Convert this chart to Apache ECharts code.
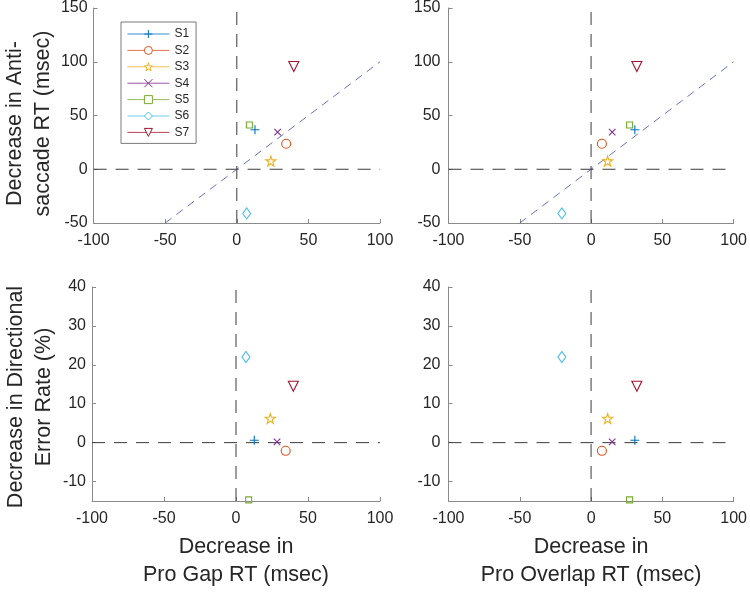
<!DOCTYPE html>
<html>
<head>
<meta charset="utf-8">
<script src="https://cdn.jsdelivr.net/npm/echarts@6/dist/echarts.min.js"></script>
<style>html,body{margin:0;padding:0;background:#fff}#c{width:750px;height:592px}</style>
</head>
<body>
<div id="c"></div>
<script>
// ---- data ----
var subjects = ['S1', 'S2', 'S3', 'S4', 'S5', 'S6', 'S7'];
var proGapDecrease = [12.7, 34.5, 23.8, 28.5, 8.8, 6.9, 39.8];
var proOverlapDecrease = [30.7, 7.6, 11.6, 14.8, 27.0, -20.5, 32.1];
var antiRtDecrease = [36.7, 23.7, 7.6, 34.6, 41.1, -41.1, 95.6];
var errorRateDecrease = [0.6, -2.1, 6.2, 0.2, -14.7, 22.0, 14.5];
var xTicks = [-100, -50, 0, 50, 100];
var yTicksRT = [-50, 0, 50, 100, 150];
var yTicksErr = [-10, 0, 10, 20, 30, 40];
var identityLine = [-50, 100];

// ---- styles ----
var colors = ['#0072BD', '#D95319', '#EDB120', '#7E2F8E', '#77AC30', '#4DBEEE', '#A2142F'];
var starPath = 'path://M50,0L61.2,34.5L97.6,34.5L68.2,55.9L79.4,90.5L50,69.1L20.6,90.5L31.8,55.9L2.4,34.5L38.8,34.5Z';
var symbols = ['path://M0,5L10,5M5,0L5,10', 'circle', starPath, 'path://M0,0L10,10M0,10L10,0', 'rect', 'diamond', 'triangle'];
var symSizes = [9, 9, 10, 6.5, 6, [8, 11], 10];
var symRot = [0, 0, 0, 0, 0, 0, 180];
var FONT = 'Liberation Sans, Arial, Helvetica, sans-serif';
var axisGray = '#8a8a8a';
var textCol = '#262626';

var grids = [
  {left: 92, top: 8, width: 288, height: 215},
  {left: 448.5, top: 8, width: 288, height: 215},
  {left: 92, top: 287, width: 288, height: 214},
  {left: 448.5, top: 287, width: 288, height: 214}
];

function xAxisCfg(i, name) {
  return {
    type: 'value', gridIndex: i, min: xTicks[0], max: xTicks[xTicks.length - 1], interval: 50,
    axisLine: {show: true, onZero: false, lineStyle: {color: axisGray, width: 1}},
    axisTick: {show: true, inside: true, length: 4, lineStyle: {color: axisGray}},
    axisLabel: {color: textCol, fontSize: 16, fontFamily: FONT, margin: 10},
    splitLine: {show: false},
    name: name || '', nameLocation: 'middle', nameGap: 32,
    nameTextStyle: {color: textCol, fontSize: 21.5, fontFamily: FONT, lineHeight: 28}
  };
}
function yAxisCfg(i, kind, name, margin, shift) {
  var c = {
    type: 'value', gridIndex: i,
    axisLine: {show: true, onZero: false, lineStyle: {color: axisGray, width: 1}},
    axisTick: {show: true, inside: true, length: 4, lineStyle: {color: axisGray}},
    axisLabel: {color: textCol, fontSize: 16, fontFamily: FONT, margin: margin},
    splitLine: {show: false},
    name: name || '', nameLocation: 'middle', nameGap: 34, nameRotate: 90,
    nameTextStyle: {color: textCol, fontSize: 21.5, fontFamily: FONT, lineHeight: 28,
                    padding: [0, shift || 0, 0, 0]}
  };
  if (kind === 'rt') {
    c.min = yTicksRT[0]; c.max = yTicksRT[yTicksRT.length - 1]; c.interval = 50;
  } else {
    c.min = -15; c.max = 40;
    c.axisLabel.customValues = yTicksErr;
    c.axisTick.customValues = yTicksErr;
  }
  return c;
}

var xAxes = [xAxisCfg(0), xAxisCfg(1), xAxisCfg(2, 'Decrease in\nPro Gap RT (msec)'), xAxisCfg(3, 'Decrease in\nPro Overlap RT (msec)')];
var yAxes = [yAxisCfg(0, 'rt', 'Decrease in Anti-\nsaccade RT (msec)', 6, 16), yAxisCfg(1, 'rt', '', 8),
             yAxisCfg(2, 'err', 'Decrease in Directional\nError Rate (%)', 6, 6), yAxisCfg(3, 'err', '', 8)];

var series = [];
var panelX = [proGapDecrease, proOverlapDecrease, proGapDecrease, proOverlapDecrease];
var panelY = [antiRtDecrease, antiRtDecrease, errorRateDecrease, errorRateDecrease];
var panelYRange = [[-50, 150], [-50, 150], [-15, 40], [-15, 40]];

// reference lines
for (var p = 0; p < 4; p++) {
  var yr = panelYRange[p];
  series.push({
    type: 'line', name: 'zeroV' + p, xAxisIndex: p, yAxisIndex: p, silent: true,
    data: [[0, yr[0]], [0, yr[1]]], symbol: 'none',
    lineStyle: {color: '#3a3a3a', width: 1, type: [13, 9]}, z: 1
  });
  series.push({
    type: 'line', name: 'zeroH' + p, xAxisIndex: p, yAxisIndex: p, silent: true,
    data: [[-100, 0], [100, 0]], symbol: 'none',
    lineStyle: {color: '#3a3a3a', width: 1, type: [13, 9]}, z: 1
  });
  if (p < 2) {
    series.push({
      type: 'line', name: 'identity' + p, xAxisIndex: p, yAxisIndex: p, silent: true,
      data: [[identityLine[0], identityLine[0]], [identityLine[1], identityLine[1]]], symbol: 'none',
      lineStyle: {color: '#4050a8', width: 0.8, type: [8, 6]}, z: 1
    });
  }
}

// subject points
for (var s = 0; s < subjects.length; s++) {
  for (var q = 0; q < 4; q++) {
    series.push({
      type: 'line', name: subjects[s], xAxisIndex: q, yAxisIndex: q,
      data: [[panelX[q][s], panelY[q][s]]],
      symbol: symbols[s], symbolSize: symSizes[s], symbolRotate: symRot[s],
      showSymbol: true,
      itemStyle: {color: 'none', borderColor: colors[s], borderWidth: 1.1},
      lineStyle: {color: colors[s], width: 1},
      z: 3, animation: false
    });
  }
}

var chart = echarts.init(document.getElementById('c'), null, {renderer: 'canvas'});
chart.setOption({
  animation: false,
  backgroundColor: '#fff',
  grid: grids,
  xAxis: xAxes,
  yAxis: yAxes,
  legend: {
    data: subjects, orient: 'vertical', left: 121, top: 22,
    padding: [6, 7, 5, 6], itemWidth: 42, itemHeight: 10, itemGap: 4.4,
    borderColor: '#7a7a7a', borderWidth: 1, backgroundColor: '#fff',
    itemStyle: {color: '#ffffff', borderWidth: 1},
    lineStyle: {width: 0.8},
    textStyle: {color: textCol, fontSize: 12, lineHeight: 10, fontFamily: FONT},
    selectedMode: false
  },
  series: series
});
</script>
</body>
</html>
